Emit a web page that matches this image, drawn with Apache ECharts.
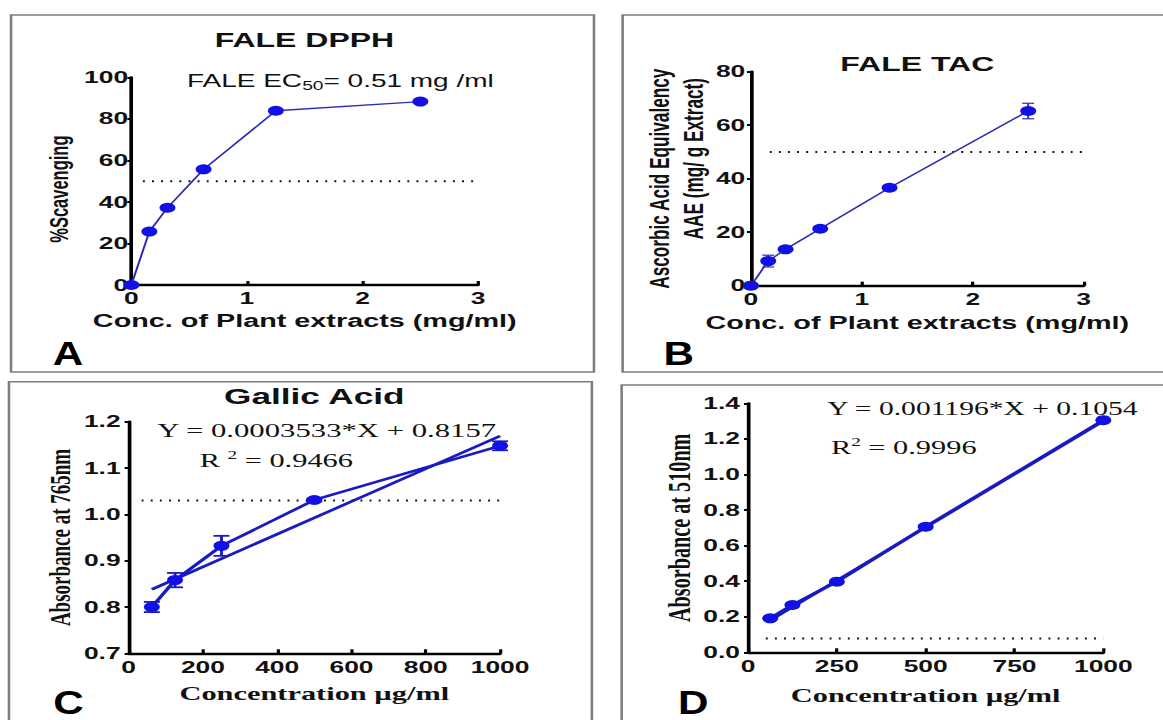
<!DOCTYPE html>
<html><head><meta charset="utf-8">
<script src="https://cdn.jsdelivr.net/npm/echarts@6/dist/echarts.min.js"></script>
<style>
html,body{margin:0;padding:0;background:#fff;overflow:hidden;width:1163px;height:720px}
#chart{width:727px;height:720px;transform:scaleX(1.59972);transform-origin:0 0;}
</style>
</head><body><div id="chart"></div>
<script>
// ---------- Panel A : FALE DPPH ----------
const concA = [0, 0.156, 0.3125, 0.625, 1.25, 2.5];
const scavA = [0, 25.7, 37.2, 55.7, 83.9, 88.3];
const refA  = [[0.1, 50], [3.0, 50]];
// ---------- Panel B : FALE TAC ----------
const concB = [0, 0.156, 0.3125, 0.625, 1.25, 2.5];
const aaeB  = [0, 9.2, 13.6, 21.3, 36.6, 65.3];
const errB  = [0, 2.2, 0.8, 0.6, 0.6, 2.9];
const refB  = [[0.17, 50], [3.0, 50]];
// ---------- Panel C : Gallic Acid ----------
const concC = [62.5, 125, 250, 500, 1000];
const absC  = [0.800, 0.858, 0.932, 1.031, 1.148];
const errC  = [0.011, 0.0155, 0.0216, 0.003, 0.0097];
const fitC  = [[62.5, 0.838], [1000, 1.169]];
const refC  = [[35, 1.03], [1000, 1.03]];
// ---------- Panel D ----------
const concD = [62.5, 125, 250, 500, 1000];
const absD  = [0.191, 0.266, 0.397, 0.706, 1.305];
const fitD  = [[62.5, 0.18], [1000, 1.30]];
const refD  = [[50, 0.078], [1000, 0.078]];

// ---------- text ----------
const titles = ['FALE DPPH', 'FALE TAC', 'Gallic Acid'];
const panelLetters = ['A', 'B', 'C', 'D'];
const xNames = ['Conc. of Plant extracts (mg/ml)', 'Conc. of Plant extracts (mg/ml)', 'Concentration \u00b5g/ml', 'Concentration \u00b5g/ml'];
const yNames = ['%Scavenging', ['Ascorbic Acid Equivalency', 'AAE (mg/ g Extract)'], 'Absorbance at 765nm', 'Absorbance at 510nm'];

const SANS = 'Liberation Sans', SERIF = 'Liberation Serif';
const BLUE = '#1111e6', LINE_A = '#2d2db4', LINE_C = '#1a1ac4';

const chart = echarts.init(document.getElementById('chart'), null, {renderer: 'svg', width: 727, height: 720});

function xAxisCfg(idx, min, max, interval, nameFont, nameGap, labelMargin) {
  return {
    gridIndex: idx, type: 'value', min, max, interval,
    name: xNames[idx], nameLocation: 'middle', nameGap,
    nameTextStyle: nameFont,
    axisLine: {onZero: false, lineStyle: {color: '#000', width: 2.3}},
    axisTick: {inside: true, length: 4, lineStyle: {color: '#000', width: 2}},
    axisLabel: {margin: labelMargin, fontFamily: SANS, fontWeight: 'bold', fontSize: 16.5, color: '#111',
      formatter: v => String(v)},
    splitLine: {show: false}
  };
}
function yAxisCfg(idx, min, max, interval, name, nameFont, nameGap, labelMargin, fmt) {
  return {
    gridIndex: idx, type: 'value', min, max, interval,
    name, nameLocation: 'middle', nameRotate: 90, nameGap,
    nameTextStyle: nameFont,
    axisLine: {onZero: false, lineStyle: {color: '#000', width: 2.3}},
    axisTick: {inside: false, length: 2.5, lineStyle: {color: '#000', width: 2}},
    axisLabel: {margin: labelMargin, fontFamily: SANS, fontWeight: 'bold', fontSize: 16.5, color: '#111',
      formatter: fmt || (v => String(v))},
    splitLine: {show: false}
  };
}
const zip = (xs, ys) => xs.map((x, i) => [x, ys[i]]);
const zip3 = (xs, ys, es) => xs.map((x, i) => [x, ys[i], es[i]]);

function errorBars(idx, data, color, lw, hw) {
  return {
    type: 'custom', xAxisIndex: idx, yAxisIndex: idx, data, clip: false, z: 4,
    encode: {x: 0, y: 1},
    renderItem: function (params, api) {
      const x = api.value(0), y = api.value(1), e = api.value(2);
      const t = api.coord([x, y + e]), b = api.coord([x, y - e]);
      const st = {stroke: color, lineWidth: lw, fill: 'none'};
      return {type: 'group', children: [
        {type: 'line', shape: {x1: t[0], y1: t[1], x2: b[0], y2: b[1]}, style: st},
        {type: 'line', shape: {x1: t[0] - hw, y1: t[1], x2: t[0] + hw, y2: t[1]}, style: st},
        {type: 'line', shape: {x1: b[0] - hw, y1: b[1], x2: b[0] + hw, y2: b[1]}, style: st}
      ]};
    }
  };
}
function dotted(idx, data) {
  return {type: 'line', xAxisIndex: idx, yAxisIndex: idx, data, symbol: 'none', z: 2,
    lineStyle: {color: '#111', width: 2, type: [1.2, 4.5]}};
}
function pts(idx, data, lineColor, lw) {
  return {type: 'line', xAxisIndex: idx, yAxisIndex: idx, data, symbol: 'circle', symbolSize: 10,
    clip: false, z: 5, itemStyle: {color: BLUE}, lineStyle: {color: lineColor, width: lw}};
}
function frame(x, y, w, h) {
  return {type: 'rect', shape: {x, y, width: w, height: h}, silent: true, z: -10,
    style: {fill: 'none', stroke: '#7d7d7d', lineWidth: 1.6}};
}
function txt(x, y, text, font, align, extra) {
  return Object.assign({type: 'text', x, y, silent: true, z: 10,
    style: Object.assign({text, font, fill: '#111', align: align, textAlign: align,
      verticalAlign: 'middle', textVerticalAlign: 'middle'}, extra || {})});
}
function letter(x, y, t) {
  return {type: 'text', x, y, scaleX: 0.8, silent: true, z: 10,
    style: {text: t, font: 'bold 33px "Liberation Sans"', fill: '#000', align: 'left', textAlign: 'left',
      verticalAlign: 'middle', textVerticalAlign: 'middle'}};
}

const sansBold18 = {fontFamily: SANS, fontWeight: 'bold', fontSize: 18, color: '#111'};
const serifBold19 = {fontFamily: SERIF, fontWeight: 'bold', fontSize: 19, color: '#111'};

const option = {
  animation: false,
  backgroundColor: '#fff',
  grid: [
    {left: 82.1, top: 77.3, width: 216.8, height: 207.7, containLabel: false, outerBoundsMode: 'none'},
    {left: 469.4, top: 71.7, width: 208, height: 214, containLabel: false, outerBoundsMode: 'none'},
    {left: 80.4, top: 421.7, width: 232.2, height: 231.6, containLabel: false, outerBoundsMode: 'none'},
    {left: 467.6, top: 403.3, width: 222.1, height: 249, containLabel: false, outerBoundsMode: 'none'}
  ],
  xAxis: [
    xAxisCfg(0, 0, 3, 1, sansBold18, 27, 4.5),
    xAxisCfg(1, 0, 3, 1, sansBold18, 28, 5),
    xAxisCfg(2, 0, 1000, 200, serifBold19, 30, 6),
    xAxisCfg(3, 0, 1000, 250, serifBold19, 33, 6)
  ],
  yAxis: [
    yAxisCfg(0, 0, 100, 20, yNames[0], {fontFamily: SANS, fontWeight: 'bold', fontSize: 16.5, color: '#111', padding: [0, 16, 0, 0]}, 37, 2),
    yAxisCfg(1, 0, 80, 20, '{a|' + yNames[1][0] + '}\n{b|' + yNames[1][1] + '}',
      {fontFamily: SANS, fontWeight: 'bold', fontSize: 17.2, color: '#111', lineHeight: 21,
       rich: {a: {fontFamily: SANS, fontWeight: 'bold', fontSize: 17.2, color: '#111', lineHeight: 21},
              b: {fontFamily: SANS, fontWeight: 'bold', fontSize: 17.2, color: '#111', lineHeight: 21, padding: [0, 0, 0, 40]}}}, 25.5, 3.5),
    yAxisCfg(2, 0.7, 1.2, 0.1, yNames[2], {fontFamily: SERIF, fontWeight: 'bold', fontSize: 19, color: '#111'}, 34, 5, v => v.toFixed(1)),
    yAxisCfg(3, 0, 1.4, 0.2, yNames[3], {fontFamily: SERIF, fontWeight: 'bold', fontSize: 20.2, color: '#111'}, 33, 5, v => v.toFixed(1))
  ],
  series: [
    dotted(0, refA),
    pts(0, zip(concA, scavA), LINE_A, 1.3),
    dotted(1, refB),
    errorBars(1, zip3(concB, aaeB, errB), LINE_A, 1.2, 3.7),
    pts(1, zip(concB, aaeB), LINE_A, 1.3),
    dotted(2, refC),
    {type: 'line', xAxisIndex: 2, yAxisIndex: 2, data: fitC, symbol: 'none', z: 4, lineStyle: {color: LINE_C, width: 2.5}},
    errorBars(2, zip3(concC, absC, errC), LINE_C, 1.8, 5),
    pts(2, zip(concC, absC), LINE_C, 2.5),
    dotted(3, refD),
    {type: 'line', xAxisIndex: 3, yAxisIndex: 3, data: fitD, symbol: 'none', z: 4, lineStyle: {color: LINE_C, width: 2.5}},
    pts(3, zip(concD, absD), LINE_C, 2.8)
  ],
  graphic: [
    frame(6.9, 15, 364.4, 357),
    frame(389.2, 15, 400, 357),
    frame(5.6, 381.7, 364.4, 400),
    frame(388.6, 385, 400, 400),
    txt(190.3, 40, titles[0], 'bold 20px "Liberation Sans"', 'center'),
    txt(573.4, 64, titles[1], 'bold 20px "Liberation Sans"', 'center'),
    txt(196.5, 396.5, titles[2], 'bold 22px "Liberation Sans"', 'center'),
    txt(116.9, 81, 'FALE EC{s|50}= 0.51 mg /ml', '17.5px "Liberation Sans"', 'left',
      {lineHeight: 22, rich: {s: {fontSize: 12, fontFamily: SANS, fill: '#111', lineHeight: 22, verticalAlign: 'bottom'}}}),
    txt(98.3, 430.7, 'Y = 0.0003533*X + 0.8157', '19.2px "Liberation Serif"', 'left'),
    txt(124.8, 460, 'R {p|2} = 0.9466', '19px "Liberation Serif"', 'left',
      {lineHeight: 22, rich: {p: {fontSize: 12, fontFamily: SERIF, fill: '#111', lineHeight: 22, verticalAlign: 'top'}}}),
    txt(517.1, 408.3, 'Y = 0.001196*X + 0.1054', '18.5px "Liberation Serif"', 'left'),
    txt(519.4, 447.3, 'R{p|2} = 0.9996', '19px "Liberation Serif"', 'left',
      {lineHeight: 22, rich: {p: {fontSize: 12, fontFamily: SERIF, fill: '#111', lineHeight: 22, verticalAlign: 'top'}}}),
    letter(32.9, 354, panelLetters[0]),
    letter(414.8, 354, panelLetters[1]),
    letter(33.3, 702.5, panelLetters[2]),
    letter(423.9, 702.5, panelLetters[3])
  ]
};
chart.setOption(option);
</script>
</body></html>
